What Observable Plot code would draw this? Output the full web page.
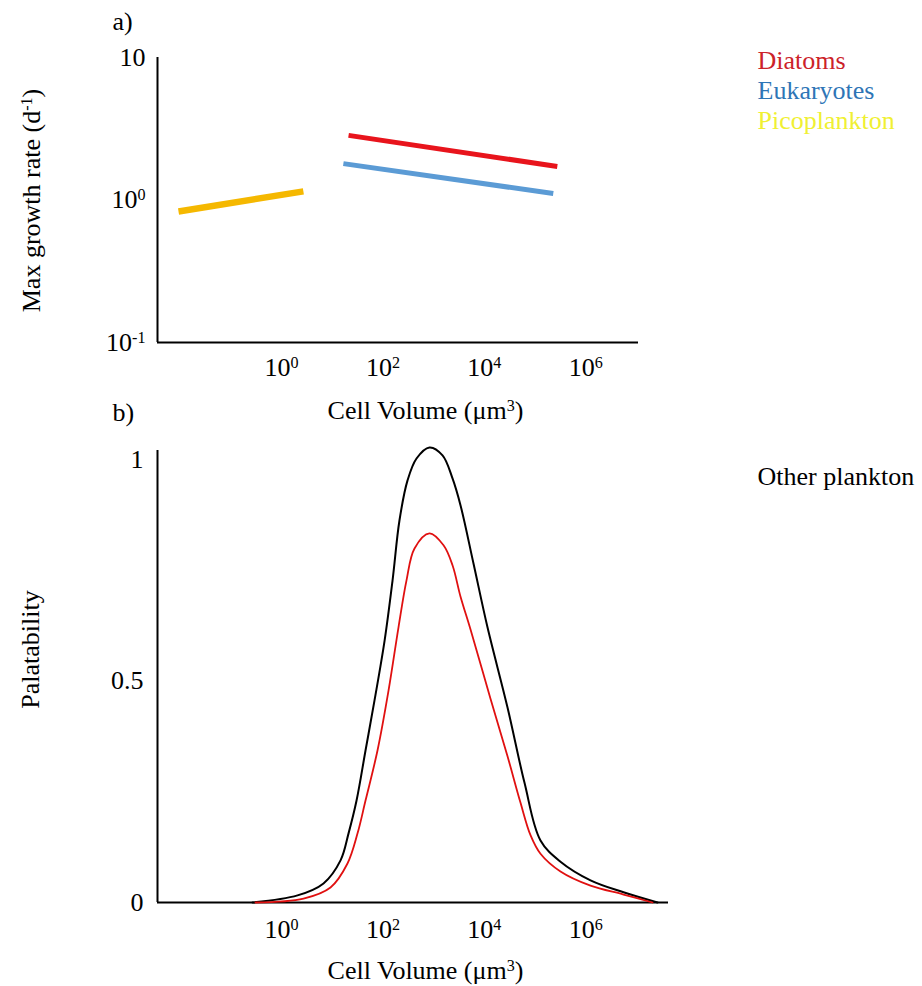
<!DOCTYPE html>
<html>
<head>
<meta charset="utf-8">
<script src="https://cdn.jsdelivr.net/npm/d3@7"></script>
<script src="https://cdn.jsdelivr.net/npm/@observablehq/plot@0.6"></script>
<style>
  html, body { margin: 0; padding: 0; background: #fff; }
  #fig { position: relative; width: 922px; height: 986px; overflow: hidden; }
  #fig svg { position: absolute; left: 0; }
</style>
</head>
<body>
<div id="fig"></div>
<script>
// ---------- Data ----------
// Panel a: max growth rate vs cell volume (two end points per series)
const seriesNames = ["Diatoms", "Eukaryotes", "Picoplankton"];
const growthSeries = ["Picoplankton", "Picoplankton", "Diatoms", "Diatoms", "Eukaryotes", "Eukaryotes"];
const growthVolume = [0.0093, 2.7, 21, 275000, 16.6, 229000];   // µm³
const growthRate   = [0.83, 1.15, 2.84, 1.72, 1.80, 1.11];      // d⁻¹

// Panel b: palatability vs cell volume (black and red curves)
const blackVolume = [0.268, 2.07, 6.73, 14.6, 21.0, 30.2, 45.4, 68.3, 108, 155, 212, 305, 460, 830, 1500, 2360, 3400, 6120, 11560, 28700, 62100, 128300, 318000, 1244000, 5570000, 26100000];
const blackPalat  = [0, 0.016, 0.043, 0.095, 0.156, 0.230, 0.343, 0.456, 0.591, 0.727, 0.862, 0.952, 1.002, 1.027, 1.009, 0.957, 0.896, 0.765, 0.621, 0.440, 0.270, 0.140, 0.092, 0.050, 0.023, 0];
const redVolume = [0.307, 2.72, 9.25, 20.0, 31.6, 45.4, 78.2, 129, 203, 292, 420, 830, 1570, 2360, 3400, 5350, 13250, 28700, 51800, 81500, 128300, 318000, 1244000, 5570000, 20800000];
const redPalat  = [0, 0.009, 0.034, 0.088, 0.156, 0.230, 0.343, 0.478, 0.621, 0.727, 0.799, 0.833, 0.806, 0.761, 0.690, 0.616, 0.460, 0.330, 0.225, 0.152, 0.110, 0.070, 0.038, 0.018, 0];

// Ticks
const xTicks = [1, 1e2, 1e4, 1e6];
const xTickLabels = ["10⁰", "10²", "10⁴", "10⁶"];
const aYTicks = [0.1, 1, 10];
const aYTickLabels = ["10⁻¹", "10⁰", "10"];
const bYTicks = [0, 0.5, 1];
const bYTickLabels = ["0", "0.5", "1"];

// ---------- Styling ----------
const lineColors = ["#e8141c", "#5b9bd5", "#f5b800"];
const legendColors = ["#cc2229", "#2e75b6", "#f0f032"];
const font = '"Liberation Serif", "Times New Roman", serif';
const fmt = (ticks, labels) => d => labels[ticks.indexOf(d)];

const xMinExp = -2.446;
const xDomainA = [10 ** xMinExp, 10 ** 7.041];
const xDomainB = [10 ** xMinExp, 10 ** 7.633];

const growthData = growthSeries.map((s, i) => ({series: s, volume: growthVolume[i], rate: growthRate[i]}));
const blackData = blackVolume.map((v, i) => ({volume: v, p: blackPalat[i]}));
const redData = redVolume.map((v, i) => ({volume: v, p: redPalat[i]}));

const baseStyle = {background: "transparent", fontFamily: font, fontSize: "26px", overflow: "visible", color: "#000"};
const txt = (s, o) => Plot.text([s], {frameAnchor: "top-left", textAnchor: "middle", lineAnchor: "middle", fontSize: 26, fontFamily: font, fill: "#000", ...o});

// ---------- Panel a ----------
const plotA = Plot.plot({
  width: 922, height: 440,
  marginLeft: 157, marginRight: 284, marginTop: 57, marginBottom: 98,
  style: baseStyle,
  x: {type: "log", domain: xDomainA},
  y: {type: "log", domain: [0.1, 10]},
  color: {domain: seriesNames, range: lineColors},
  marks: [
    Plot.ruleX([xDomainA[0]], {stroke: "#000", strokeWidth: 2}),
    Plot.ruleY([0.1], {stroke: "#000", strokeWidth: 2}),
    Plot.axisX(xTicks, {tickFormat: fmt(xTicks, xTickLabels), tickSize: 0, tickPadding: 15, label: null, fontSize: 26}),
    Plot.axisY(aYTicks, {tickFormat: fmt(aYTicks, aYTickLabels), tickSize: 0, tickPadding: 12, label: null, fontSize: 26}),
    Plot.line(growthData.filter(d => d.series === "Picoplankton"), {x: "volume", y: "rate", stroke: "series", strokeWidth: 6.5, strokeLinecap: "butt"}),
    Plot.line(growthData.filter(d => d.series !== "Picoplankton"), {x: "volume", y: "rate", z: "series", stroke: "series", strokeWidth: 5, strokeLinecap: "butt"}),
    txt("a)", {dx: -45, dy: -36, textAnchor: "start"}),
    txt("Max growth rate (d⁻¹)", {dx: -126, dy: 143, rotate: -90}),
    txt("Cell Volume (μm³)", {dx: 268, dy: 353}),
    ...seriesNames.map((n, i) => txt(n, {dx: 600, dy: 3 + 30 * i, textAnchor: "start", fill: legendColors[i]}))
  ]
});
plotA.style.top = "0px";

// ---------- Panel b ----------
const plotB = Plot.plot({
  width: 922, height: 596,
  marginLeft: 157, marginRight: 254, marginTop: 60, marginBottom: 84,
  style: baseStyle,
  x: {type: "log", domain: xDomainB},
  y: {domain: [0, 1.02]},
  marks: [
    Plot.ruleX([xDomainB[0]], {stroke: "#000", strokeWidth: 2}),
    Plot.ruleY([0], {stroke: "#000", strokeWidth: 2}),
    Plot.axisX(xTicks, {tickFormat: fmt(xTicks, xTickLabels), tickSize: 0, tickPadding: 17, label: null, fontSize: 26}),
    Plot.axisY(bYTicks, {tickFormat: fmt(bYTicks, bYTickLabels), tickSize: 0, tickPadding: 14, label: null, fontSize: 26}),
    Plot.line(blackData, {x: "volume", y: "p", stroke: "#000", strokeWidth: 2, curve: "catmull-rom"}),
    Plot.line(redData, {x: "volume", y: "p", stroke: "#e01010", strokeWidth: 1.8, curve: "catmull-rom"}),
    txt("b)", {dx: -45, dy: -38, textAnchor: "start"}),
    txt("Palatability", {dx: -127, dy: 199, rotate: -90}),
    txt("Cell Volume (μm³)", {dx: 268, dy: 520}),
    txt("Other plankton", {dx: 600, dy: 26, textAnchor: "start"})
  ]
});
plotB.style.top = "390px";

const fig = document.getElementById("fig");
fig.appendChild(plotA);
fig.appendChild(plotB);

// Render unicode superscripts as real superscript tspans (text stays text)
const supMap = {"⁰": "0", "¹": "1", "²": "2", "³": "3", "⁴": "4", "⁵": "5", "⁶": "6", "⁻": "-"};
const ns = "http://www.w3.org/2000/svg";
fig.querySelectorAll("text").forEach(t => {
  if (t.children.length) return;
  const s = t.textContent;
  if (![...s].some(c => supMap[c])) return;
  const parts = [];
  for (const c of s) {
    const sup = !!supMap[c];
    const ch = sup ? supMap[c] : c;
    if (parts.length && parts[parts.length - 1].sup === sup) parts[parts.length - 1].s += ch;
    else parts.push({sup, s: ch});
  }
  t.textContent = "";
  let raised = false;
  for (const p of parts) {
    const ts = document.createElementNS(ns, "tspan");
    ts.textContent = p.s;
    if (p.sup) {
      ts.setAttribute("font-size", "0.62em");
      ts.setAttribute("dy", "-0.5em");
      raised = true;
    } else if (raised) {
      ts.setAttribute("dy", "0.31em");
      raised = false;
    }
    t.appendChild(ts);
  }
});
</script>
</body>
</html>
